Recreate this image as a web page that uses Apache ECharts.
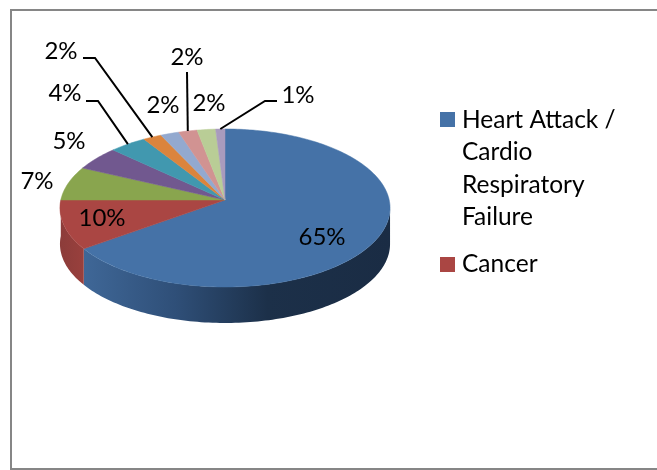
<html>

<head>
    <meta charset='UTF-8'>
    <style>
        html, body { margin: 0; padding: 0; background: #fff; }
        #chart { width: 657px; height: 470px; }
    </style>
</head>

<body>
    <div id="chart"></div>
    <script src='https://cdn.jsdelivr.net/npm/echarts@6/dist/echarts.min.js'></script>
    <script>
        // chart data
        const values = [65, 10, 7, 5, 4, 2, 2, 2, 2, 1]
        const colors = ['#4572A7', '#AA4643', '#89A54E', '#71588F', '#4198AF', '#DB843D', '#93A9CF', '#D19392', '#B9CD96', '#A99BBD']
        const legendNames = ['Heart Attack /\nCardio\nRespiratory\nFailure', 'Cancer']

        // label centres and leader elbows, same order as values
        const labelSpots = [[322, 237], [102, 218], [37, 181], [69, 141], [65, 93], [61, 51], [163, 105], [187, 57], [209, 103], [298, 95]]
        const leaders = [null, null, null, null, [[86, 101], [98, 101]], [[83, 58], [95, 58]], null, [[187, 72]], null, [[277, 101], [265, 101]]]

        // tilted pie: the apex sits above the middle of the ellipse
        const apexX = 225, apexY = 200
        const radiusX = 164.2, radiusY = 78.2, tilt = 0.101
        const depth = 36
        const total = values.reduce((a, b) => a + b, 0)

        function rim(share) {
            const t = share / total * Math.PI * 2
            const d = 1 + tilt * Math.cos(t)
            return [apexX + radiusX * Math.sin(t) / d, apexY - radiusY * Math.cos(t) / d]
        }

        function arc(from, to) {
            const pts = []
            const steps = Math.max(2, Math.ceil((to - from) * 3))
            for (let i = 0; i <= steps; i++) pts.push(rim(from + (to - from) * i / steps))
            return pts
        }

        const fontFamily = 'Lato'
        let sum = 0
        const rows = values.map((v, i) => {
            const row = [v, sum, i]
            sum += v
            return row
        })

        const sideFills = {
            0: new echarts.graphic.LinearGradient(0, 0, 1, 0, [
                { offset: 0, color: '#3f6797' },
                { offset: 0.3, color: '#2f4f78' },
                { offset: 0.6, color: '#1c3049' },
                { offset: 1, color: '#1a2c44' }
            ]),
            1: new echarts.graphic.LinearGradient(0, 0, 1, 0, [
                { offset: 0, color: '#8c3c3a' },
                { offset: 1, color: '#99403d' }
            ])
        }

        // only the front of the wall shows, so start it where the rim turns back
        const frontStart = total * 0.266, frontEnd = total * 0.75

        function renderSide(params, api) {
            const v = api.value(0), start = api.value(1), i = api.value(2)
            const from = Math.max(start, frontStart), to = Math.min(start + v, frontEnd)
            if (to <= from) return { type: 'group', children: [] }
            const top = arc(from, to)
            const bottom = top.map(p => [p[0], p[1] + depth]).reverse()
            return {
                type: 'polygon',
                shape: { points: top.concat(bottom) },
                style: { fill: sideFills[i] || colors[i] }
            }
        }

        function renderTop(params, api) {
            const v = api.value(0), start = api.value(1), i = api.value(2)
            return {
                type: 'polygon',
                shape: { points: [[apexX, apexY]].concat(arc(start, start + v)) },
                style: { fill: colors[i], stroke: colors[i], lineWidth: 0.5 }
            }
        }

        function renderLabel(params, api) {
            const v = api.value(0), start = api.value(1), i = api.value(2)
            const children = []
            if (leaders[i]) {
                children.push({
                    type: 'polyline',
                    shape: { points: leaders[i].concat([rim(start + v / 2)]) },
                    style: { fill: 'none', stroke: '#000', lineWidth: 2 }
                })
            }
            children.push({
                type: 'text',
                style: {
                    x: labelSpots[i][0],
                    y: labelSpots[i][1],
                    text: v + '%',
                    align: 'center',
                    verticalAlign: 'middle',
                    fontFamily: fontFamily,
                    fontSize: 24,
                    fill: '#000'
                }
            })
            return { type: 'group', children: children }
        }

        // frame and legend
        const legendTops = [112, 257]
        const legendTextTops = [104, 248]
        const graphic = [{
            type: 'rect',
            shape: { x: 11, y: 10, width: 700, height: 459 },
            style: { fill: 'none', stroke: '#868686', lineWidth: 2 },
            silent: true
        }]
        legendNames.forEach((name, i) => {
            graphic.push({
                type: 'rect',
                shape: { x: 440, y: legendTops[i], width: 15, height: 15 },
                style: { fill: colors[i] }
            })
            graphic.push({
                type: 'text',
                x: 462,
                y: legendTextTops[i],
                style: {
                    text: name,
                    fontFamily: fontFamily,
                    fontSize: 24.5,
                    lineHeight: 32.3,
                    fill: '#000'
                }
            })
        })

        const myChart = echarts.init(document.getElementById('chart'), null, { renderer: 'canvas' })
        myChart.setOption({
            animation: false,
            backgroundColor: '#fff',
            graphic: graphic,
            series: [
                { type: 'custom', coordinateSystem: 'none', renderItem: renderSide, data: rows, silent: true, z: 1 },
                { type: 'custom', coordinateSystem: 'none', renderItem: renderTop, data: rows, silent: true, z: 2 },
                { type: 'custom', coordinateSystem: 'none', renderItem: renderLabel, data: rows, silent: true, z: 3 }
            ]
        })
    </script>
</body>

</html>
